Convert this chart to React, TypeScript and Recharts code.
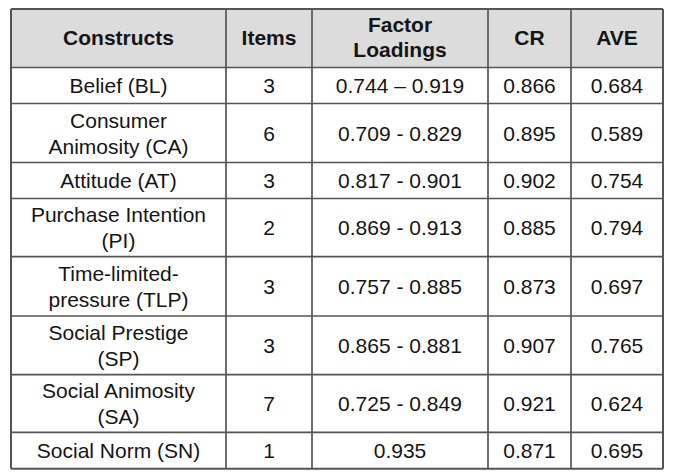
import React from "react";
import { ComposedChart, XAxis, YAxis, Scatter, ReferenceArea, ReferenceLine } from "recharts";

// ---- data ----
const headers = ["Constructs", "Items", "Factor\nLoadings", "CR", "AVE"];
const constructs = [
  "Belief (BL)",
  "Consumer\nAnimosity (CA)",
  "Attitude (AT)",
  "Purchase Intention\n(PI)",
  "Time-limited-\npressure (TLP)",
  "Social Prestige\n(SP)",
  "Social Animosity\n(SA)",
  "Social Norm (SN)",
];
const items = [3, 6, 3, 2, 3, 3, 7, 1];
const factorLoadings = [
  "0.744 \u2013 0.919",
  "0.709 - 0.829",
  "0.817 - 0.901",
  "0.869 - 0.913",
  "0.757 - 0.885",
  "0.865 - 0.881",
  "0.725 - 0.849",
  "0.935",
];
const crValues = [0.866, 0.895, 0.902, 0.885, 0.873, 0.907, 0.921, 0.871];
const aveValues = [0.684, 0.589, 0.754, 0.794, 0.697, 0.765, 0.624, 0.695];

// ---- layout ----
const W = 683;
const H = 472;
const colEdges = [11, 226, 312, 488, 571, 663];
const rowEdges = [9, 67.5, 103.5, 162.5, 198.5, 256.7, 316, 374.7, 432.3, 468.7];
const FONT = "'Liberation Sans', Arial, Helvetica, sans-serif";
const FS = 21;
const LINE = "#555555";
const TEXT = "#151515";
const HEADER_BG = "#dcdcdc";

type Cell = { x: number; y: number; text: string; header: boolean };

const cells: Cell[] = [];
headers.forEach((h, c) => {
  cells.push({
    x: (colEdges[c] + colEdges[c + 1]) / 2,
    y: (rowEdges[0] + rowEdges[1]) / 2,
    text: h,
    header: true,
  });
});
constructs.forEach((name, r) => {
  const vals = [name, String(items[r]), factorLoadings[r], crValues[r].toFixed(3), aveValues[r].toFixed(3)];
  vals.forEach((v, c) => {
    cells.push({
      x: (colEdges[c] + colEdges[c + 1]) / 2,
      y: (rowEdges[r + 1] + rowEdges[r + 2]) / 2,
      text: v,
      header: false,
    });
  });
});

const CellText = (props: any) => {
  const { cx, cy, payload } = props;
  if (cx == null || cy == null || !payload) return null;
  const lines: string[] = payload.text.split("\n");
  const lh = payload.header ? 25 : 26;
  const base = cy + 7.5 + (payload.header ? -1 : 0);
  return (
    <text
      textAnchor="middle"
      fontFamily={FONT}
      fontSize={FS}
      fontWeight={payload.header ? "bold" : "normal"}
      fill={TEXT}
    >
      {lines.map((ln, i) => (
        <tspan key={i} x={cx} y={base + (i - (lines.length - 1) / 2) * lh}>
          {ln}
        </tspan>
      ))}
    </text>
  );
};

export default function App() {
  const left = colEdges[0];
  const right = colEdges[colEdges.length - 1];
  const top = rowEdges[0];
  const bottom = rowEdges[rowEdges.length - 1];
  return (
    <div style={{ position: "absolute", left: 0, top: 0, width: W, height: H, background: "#fff" }}>
      <ComposedChart width={W} height={H} margin={{ top: 0, right: 0, bottom: 0, left: 0 }} data={cells}>
        <XAxis type="number" dataKey="x" domain={[0, W]} hide allowDataOverflow />
        <YAxis type="number" dataKey="y" domain={[0, H]} reversed hide allowDataOverflow />
        <ReferenceArea
          x1={left}
          x2={right}
          y1={rowEdges[0]}
          y2={rowEdges[1]}
          fill={HEADER_BG}
          fillOpacity={1}
          stroke="none"
          ifOverflow="visible"
        />
        {rowEdges.map((y, i) => (
          <ReferenceLine
            key={"h" + i}
            segment={[
              { x: left, y },
              { x: right, y },
            ]}
            stroke={LINE}
            strokeWidth={i === 0 || i === rowEdges.length - 1 ? 2 : 1.7}
            ifOverflow="visible"
          />
        ))}
        {colEdges.map((x, i) => (
          <ReferenceLine
            key={"v" + i}
            segment={[
              { x, y: top },
              { x, y: bottom },
            ]}
            stroke={LINE}
            strokeWidth={i === 0 || i === colEdges.length - 1 ? 2 : 1.7}
            ifOverflow="visible"
          />
        ))}
        <Scatter data={cells} dataKey="y" shape={<CellText />} isAnimationActive={false} />
      </ComposedChart>
    </div>
  );
}
